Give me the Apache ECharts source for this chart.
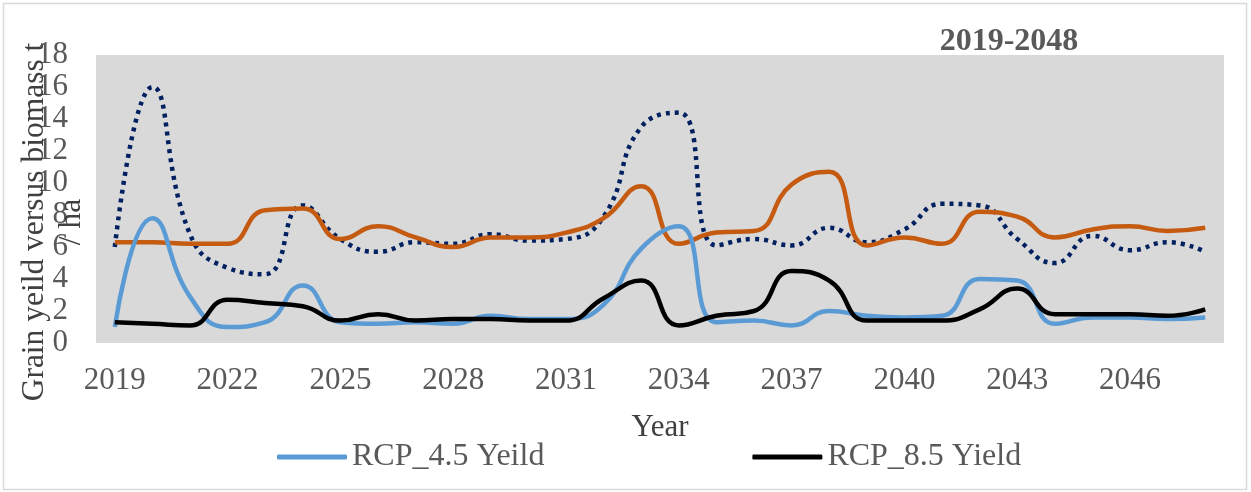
<!DOCTYPE html>
<html>
<head>
<meta charset="utf-8">
<script src="https://cdn.jsdelivr.net/npm/echarts@6/dist/echarts.min.js"></script>
<style>
  html, body { margin: 0; padding: 0; background: #fff; }
  #chart { width: 1251px; height: 492px; }
</style>
</head>
<body>
<div id="chart"></div>
<script>
const years = [];
for (let y = 2019; y <= 2048; y++) years.push(String(y));

const rcp45Yield = [1.0, 7.8, 2.9, 1.0, 1.3, 3.6, 1.3, 1.2, 1.3, 1.2, 1.7, 1.5, 1.5, 2.4, 5.9, 7.3,
  1.3, 1.4, 1.1, 2.0, 1.7, 1.6, 1.7, 4.0, 3.9, 1.2, 1.6, 1.6, 1.5, 1.6];
const rcp85Yield = [1.3, 1.2, 1.1, 2.7, 2.5, 2.3, 1.4, 1.8, 1.4, 1.5, 1.5, 1.4, 1.4, 2.8, 3.9, 1.1,
  1.7, 2.0, 4.5, 3.9, 1.4, 1.4, 1.4, 2.1, 3.4, 1.8, 1.8, 1.8, 1.7, 2.1];
const rcp45Biomass = [6.0, 16.0, 6.8, 4.7, 4.3, 8.6, 6.5, 5.7, 6.3, 6.2, 6.8, 6.4, 6.5, 7.9, 13.5, 14.4,
  6.1, 6.5, 6.1, 7.2, 6.3, 7.1, 8.7, 8.6, 6.5, 5.0, 6.7, 5.8, 6.3, 5.7];
const rcp85Biomass = [6.3, 6.3, 6.2, 6.2, 8.3, 8.4, 6.5, 7.3, 6.6, 6.0, 6.6, 6.6, 6.9, 7.8, 9.8, 6.2,
  6.9, 7.0, 9.9, 10.7, 6.1, 6.6, 6.2, 8.2, 7.9, 6.6, 7.1, 7.3, 7.0, 7.2];

const serif = '"Liberation Serif", "DejaVu Serif", serif';
const grey = '#595959';

const chart = echarts.init(document.getElementById('chart'));
chart.setOption({
  animation: false,
  backgroundColor: '#fff',
  title: {
    text: '2019-2048',
    left: 1004, top: 21,
    textAlign: 'center',
    textStyle: { fontFamily: serif, fontSize: 32, fontWeight: 'bold', color: grey }
  },
  grid: { left: 96, right: 27, top: 55, bottom: 149, show: true, backgroundColor: '#d9d9d9', borderWidth: 0 },
  legend: {
    data: ['RCP_4.5 Yeild', 'RCP_8.5 Yield'],
    left: 272, top: 436,
    icon: 'roundRect',
    itemWidth: 70, itemHeight: 5,
    itemGap: 208,
    textStyle: { fontFamily: serif, fontSize: 32, color: grey }
  },
  xAxis: {
    type: 'category',
    data: years,
    boundaryGap: true,
    name: 'Year',
    nameLocation: 'middle',
    nameGap: 69,
    nameTextStyle: { fontFamily: serif, fontSize: 31, color: '#404040' },
    axisLine: { show: false },
    axisTick: { show: false },
    axisLabel: { interval: 2, margin: 22, fontFamily: serif, fontSize: 31, color: grey }
  },
  yAxis: {
    type: 'value',
    min: 0, max: 18, interval: 2,
    splitLine: { show: false },
    axisLine: { show: false },
    axisTick: { show: false },
    axisLabel: { margin: 28, fontFamily: serif, fontSize: 31, color: grey }
  },
  graphic: [
    {
      type: 'rect',
      shape: { x: 3.5, y: 3.5, width: 1243, height: 486 },
      style: { fill: 'none', stroke: '#d9d9d9', lineWidth: 1.5 },
      z: 100
    },
    {
      type: 'text',
      x: 53, y: 222,
      rotation: Math.PI / 2,
      style: {
        text: 'Grain yeild versus biomass t\n/ ha',
        fontFamily: serif, fontSize: 31.5, lineHeight: 37,
        fill: '#404040',
        align: 'center', verticalAlign: 'middle'
      },
      z: 100
    }
  ],
  series: [
    {
      name: 'RCP_4.5 Biomass', type: 'line', data: rcp45Biomass,
      smooth: 0.5, showSymbol: false,
      lineStyle: { color: '#002060', width: 4.5, type: [4, 5], cap: 'butt' },
      itemStyle: { color: '#002060' }
    },
    {
      name: 'RCP_8.5 Biomass', type: 'line', data: rcp85Biomass,
      smooth: 0.5, showSymbol: false,
      lineStyle: { color: '#c55a11', width: 4.5 },
      itemStyle: { color: '#c55a11' }
    },
    {
      name: 'RCP_4.5 Yeild', type: 'line', data: rcp45Yield,
      smooth: 0.5, showSymbol: false,
      lineStyle: { color: '#5b9bd5', width: 4.5 },
      itemStyle: { color: '#5b9bd5' }
    },
    {
      name: 'RCP_8.5 Yield', type: 'line', data: rcp85Yield,
      smooth: 0.5, showSymbol: false,
      lineStyle: { color: '#000000', width: 4.5 },
      itemStyle: { color: '#000000' }
    }
  ]
});
</script>
</body>
</html>
